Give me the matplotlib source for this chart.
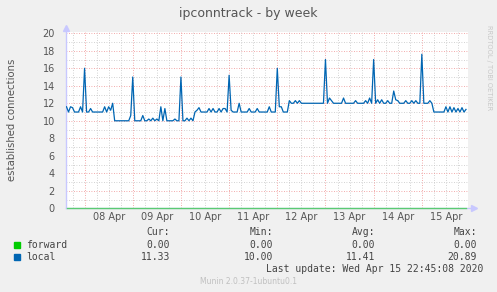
import matplotlib
matplotlib.use("Agg")
import matplotlib.pyplot as plt
import pandas as pd

# hourly samples, 07 Apr 15:00 -> 15 Apr 22:00
times = pd.date_range("2020-04-07 15:00", periods=200, freq="h")

local = [
    # 07 Apr 15:00-23:00
    11.6, 11.0, 11.6, 11.5, 11.0, 11.0, 11.0, 11.6, 11.0,
    # 08 Apr
    16.0, 11.0, 11.0, 11.4, 11.0, 11.0, 11.0, 11.0, 11.0, 11.0, 11.6, 11.0,
    11.6, 11.2, 12.0, 10.0, 10.0, 10.0, 10.0, 10.0, 10.0, 10.0, 10.0, 10.6,
    # 09 Apr
    15.0, 10.0, 10.0, 10.0, 10.0, 10.6, 10.0, 10.0, 10.2, 10.0, 10.3, 10.0,
    10.2, 10.0, 11.6, 10.0, 11.4, 10.0, 10.0, 10.0, 10.0, 10.2, 10.0, 10.0,
    # 10 Apr
    15.0, 10.0, 10.0, 10.3, 10.0, 10.3, 10.0, 11.0, 11.2, 11.5, 11.0, 11.0,
    11.0, 11.0, 11.4, 11.0, 11.4, 11.0, 11.0, 11.4, 11.0, 11.4, 11.4, 11.0,
    # 11 Apr
    15.2, 11.2, 11.0, 11.0, 11.0, 12.0, 11.0, 11.0, 11.0, 11.0, 11.4, 11.0,
    11.0, 11.0, 11.4, 11.0, 11.0, 11.0, 11.0, 11.0, 11.6, 11.0, 11.0, 11.0,
    # 12 Apr
    16.0, 11.6, 11.6, 11.0, 11.0, 11.0, 12.3, 12.0, 12.0, 12.3, 12.0, 12.3,
    12.0, 12.0, 12.0, 12.0, 12.0, 12.0, 12.0, 12.0, 12.0, 12.0, 12.0, 12.0,
    # 13 Apr
    17.0, 12.0, 12.6, 12.3, 12.0, 12.0, 12.0, 12.0, 12.0, 12.6, 12.0, 12.0,
    12.0, 12.0, 12.0, 12.3, 12.0, 12.0, 12.0, 12.0, 12.3, 12.0, 12.6, 12.0,
    # 14 Apr
    17.0, 12.0, 12.4, 12.0, 12.4, 12.0, 12.0, 12.3, 12.0, 12.0, 13.4, 12.4,
    12.3, 12.0, 12.0, 12.0, 12.3, 12.0, 12.0, 12.3, 12.0, 12.3, 12.0, 12.0,
    # 15 Apr 00:00-22:00
    17.6, 12.0, 12.0, 12.0, 12.3, 12.0, 11.0, 11.0, 11.0, 11.0, 11.0, 11.0,
    11.6, 11.0, 11.6, 11.0, 11.5, 11.0, 11.4, 11.0, 11.5, 11.0, 11.3,
]
forward = [0.0] * len(local)

day_labels = ["08 Apr", "09 Apr", "10 Apr", "11 Apr", "12 Apr", "13 Apr", "14 Apr", "15 Apr"]
yticks = [0, 2, 4, 6, 8, 10, 12, 14, 16, 18, 20]

legend_names = ["forward", "local"]
legend_colors = ["#00cc00", "#0066b3"]
stat_heads = ["Cur:", "Min:", "Avg:", "Max:"]
stats = [["0.00", "0.00", "0.00", "0.00"],
         ["11.33", "10.00", "11.41", "20.89"]]

W, H = 497, 292
fig = plt.figure(figsize=(W / 100, H / 100), dpi=100, facecolor="#f0f0f0")
ax = fig.add_axes([66 / W, 1 - 208.3 / H, 401.5 / W, 176.8 / H])
ax.set_facecolor("white")

t0 = pd.Timestamp("2020-04-07 14:45")
t1 = pd.Timestamp("2020-04-15 22:45")
ax.set_xlim(t0, t1)
ax.set_ylim(0, 20.2)

# grid: minor grey, major red (dotted like rrdtool)
minor_c, major_c = "#c4c4c4", "#ee8f8f"
for v in range(1, 21):
    c, z = (minor_c, 0) if v % 2 else (major_c, 1)
    ax.axhline(v, color=c, lw=0.6, ls=(0, (1, 2)), zorder=z)
for t in pd.date_range("2020-04-07 18:00", "2020-04-15 18:00", freq="6h"):
    c, z = (major_c, 1) if t.hour == 0 else (minor_c, 0)
    ax.axvline(t, color=c, lw=0.6, ls=(0, (1, 2)), zorder=z)

ax.plot(times, local, color="#0066b3", lw=0.9, zorder=3)
ax.plot(times, forward, color="#00cc00", lw=1.0, alpha=0.55, zorder=3, clip_on=False)

for s in ["top", "right", "bottom", "left"]:
    ax.spines[s].set_visible(False)
ax.plot([0, 0], [0, 1.02], transform=ax.transAxes, color="#c8c8ff", lw=1, clip_on=False, zorder=2)
ax.plot([0, 1.015], [0, 0], transform=ax.transAxes, color="#c8c8ff", lw=1, clip_on=False, zorder=2)
ax.plot([0], [1.02], marker="^", ms=4, color="#c8c8ff", transform=ax.transAxes, clip_on=False)
ax.plot([1.015], [0], marker=">", ms=4, color="#c8c8ff", transform=ax.transAxes, clip_on=False)

ax.set_yticks(yticks)
ax.set_yticklabels([str(v) for v in yticks])
noon = pd.date_range("2020-04-08 12:00", periods=len(day_labels), freq="D")
ax.set_xticks(noon)
ax.set_xticklabels(day_labels)
ax.tick_params(axis="both", length=0, labelsize=7, colors="#555555", pad=3)
ax.tick_params(axis="y", pad=8)

fig.text(248 / W, 1 - 13 / H, "ipconntrack - by week", ha="center", va="center",
         fontsize=9, color="#555555")
fig.text(12 / W, 1 - 120 / H, "established connections", rotation=90, ha="center",
         va="center", fontsize=7.3, color="#555555")
fig.text(489 / W, 1 - 25 / H, "RRDTOOL / TOBI OETIKER", rotation=-90, ha="center",
         va="top", fontsize=4.8, color="#c8c8c8")

mono = dict(family="DejaVu Sans Mono", fontsize=7, color="#444444", va="center")
col_right = [170, 273, 375, 477]
for x, head in zip(col_right, stat_heads):
    fig.text(x / W, 1 - 232 / H, head, ha="right", **mono)
for i, (name, c) in enumerate(zip(legend_names, legend_colors)):
    y = 245 + 12.3 * i
    fig.patches.append(plt.Rectangle((14 / W, 1 - (y + 3) / H), 6 / W, 6 / H,
                                     transform=fig.transFigure, color=c))
    fig.text(26.5 / W, 1 - y / H, name, ha="left", **mono)
    for x, val in zip(col_right, stats[i]):
        fig.text(x / W, 1 - y / H, val, ha="right", **mono)
fig.text(483 / W, 1 - 269.5 / H, "Last update: Wed Apr 15 22:45:08 2020", ha="right", **mono)
fig.text(248 / W, 1 - 281 / H, "Munin 2.0.37-1ubuntu0.1", ha="center", va="center",
         fontsize=5.5, color="#c0c0c0")

fig.savefig("out.png", dpi=100, facecolor=fig.get_facecolor())
